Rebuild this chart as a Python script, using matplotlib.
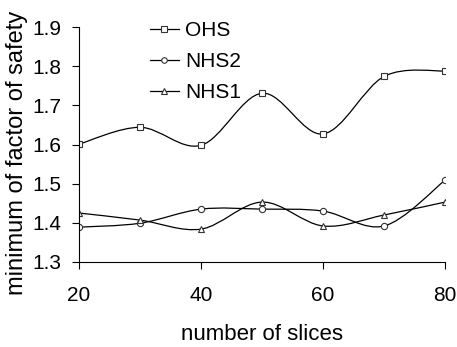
import matplotlib
matplotlib.use("Agg")
import matplotlib.pyplot as plt
from matplotlib.path import Path
from matplotlib.patches import PathPatch
from matplotlib.lines import Line2D

plt.rcParams["font.family"] = ["Liberation Sans", "DejaVu Sans"]

slices = [20, 30, 40, 50, 60, 70, 80]
ohs = [1.601, 1.644, 1.598, 1.731, 1.627, 1.774, 1.788]
nhs2 = [1.389, 1.399, 1.435, 1.435, 1.430, 1.392, 1.509]
nhs1 = [1.425, 1.407, 1.384, 1.453, 1.392, 1.420, 1.453]

series = [
    ("OHS", ohs, "s"),
    ("NHS2", nhs2, "o"),
    ("NHS1", nhs1, "^"),
]


def smooth_path(xs, ys):
    # Excel-like smoothed line: cubic bezier segments, Catmull-Rom tangents
    pts = list(zip(xs, ys))
    n = len(pts)
    verts = [pts[0]]
    codes = [Path.MOVETO]
    for i in range(n - 1):
        p0 = pts[max(i - 1, 0)]
        p1 = pts[i]
        p2 = pts[i + 1]
        p3 = pts[min(i + 2, n - 1)]
        c1 = (p1[0] + (p2[0] - p0[0]) / 6, p1[1] + (p2[1] - p0[1]) / 6)
        c2 = (p2[0] - (p3[0] - p1[0]) / 6, p2[1] - (p3[1] - p1[1]) / 6)
        verts += [c1, c2, p2]
        codes += [Path.CURVE4] * 3
    return Path(verts, codes)


fig = plt.figure(figsize=(4.57, 3.47), dpi=100)
ax = fig.add_axes([0.173, 0.245, 0.801, 0.677])

handles = []
for name, vals, mk in series:
    ax.add_patch(PathPatch(smooth_path(slices, vals), fill=False,
                           edgecolor="black", lw=0.9))
    ax.plot(slices, vals, linestyle="none", marker=mk, markersize=4.5,
            markerfacecolor="white", markeredgecolor="#333333",
            markeredgewidth=0.8)
    handles.append(Line2D([], [], color="black", lw=0.9, marker=mk,
                          markersize=4, markerfacecolor="white",
                          markeredgecolor="#333333", markeredgewidth=0.8,
                          label=name))

ax.set_xlim(20, 80)
ax.set_ylim(1.3, 1.9)
ax.set_xticks([20, 40, 60, 80])
ax.set_yticks([1.3, 1.4, 1.5, 1.6, 1.7, 1.8, 1.9])
ax.set_yticklabels(["1.3", "1.4", "1.5", "1.6", "1.7", "1.8", "1.9"])
ax.tick_params(labelsize=15, direction="out", length=5, width=0.8)
ax.tick_params(axis="y", pad=8)
ax.tick_params(axis="x", pad=12)
for side in ["top", "right"]:
    ax.spines[side].set_visible(False)
for side in ["left", "bottom"]:
    ax.spines[side].set_linewidth(0.8)

ax.set_xlabel("number of slices", fontsize=16, labelpad=14)
ax.set_ylabel("minimum of factor of safety", fontsize=17, va="center")
ax.yaxis.set_label_coords(-0.169, 0.464)

ax.legend(handles=handles, loc="upper left", bbox_to_anchor=(0.17, 1.062),
          frameon=False, fontsize=15, handlelength=1.4, handletextpad=0.3,
          labelspacing=0.58, borderaxespad=0)

fig.savefig("out.png", dpi=100)
